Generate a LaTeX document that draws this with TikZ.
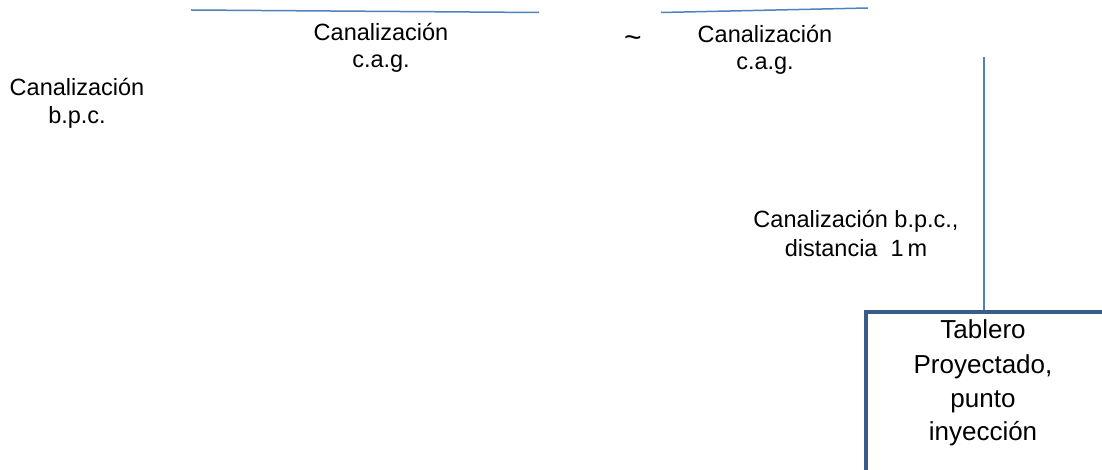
\documentclass[tikz,border=0pt]{standalone}
\usepackage{fontspec}
\setmainfont{Liberation Sans}
\definecolor{lineblue}{HTML}{4F81BD}
\definecolor{boxblue}{HTML}{385D8A}
\begin{document}
\begin{tikzpicture}[x=1pt,y=-1pt,
  lbl/.style={anchor=base,inner sep=0pt,font=\fontsize{23.5}{28}\selectfont},
  blbl/.style={anchor=base,inner sep=0pt,font=\fontsize{26}{32}\selectfont},
  wire/.style={draw=lineblue,line width=1.5pt},
  frame/.style={draw=boxblue,line width=4pt}]
\useasboundingbox (0,0) rectangle (1102,470);
\clip (0,0) rectangle (1102,470);
% top lines
\coordinate (h1a) at (191,10);
\coordinate (h1b) at (539,12.5);
\coordinate (h2a) at (661,12.5);
\coordinate (h2b) at (868,8);
\draw[wire] (h1a) -- (h1b);
\draw[wire] (h2a) -- (h2b);
% labels
\node[lbl] (c1a) at (381,41) {Canalización};
\node[lbl] (c1b) at (381,68) {c.a.g.};
\node[lbl] (c2a) at (765,43) {Canalización};
\node[lbl] (c2b) at (765,70) {c.a.g.};
\node[lbl] (c3a) at (77,96) {Canalización};
\node[lbl] (c3b) at (77,124) {b.p.c.};
\node[lbl] (c4a) at (856,228) {Canalización b.p.c.,};
\node[lbl] (c4b) at (856,256) {distancia\ \ 1\,m};
\node[lbl,font=\fontsize{30}{30}\selectfont] (tl) at (633,48) {\textasciitilde};
% box
\coordinate (boxtl) at (866,312);
\coordinate (boxbr) at (1120,490);
\draw[frame] (boxtl) rectangle (boxbr);
\node[blbl] (t1) at (983,338) {Tablero};
\node[blbl] (t2) at (983,373) {Proyectado,};
\node[blbl] (t3) at (983,407) {punto};
\node[blbl] (t4) at (983,440) {inyección};
% vertical connector
\coordinate (vtop) at (984,57);
\coordinate (boxtop) at (984,310);
\draw[wire] (vtop) -- (boxtop);
\end{tikzpicture}
\end{document}
